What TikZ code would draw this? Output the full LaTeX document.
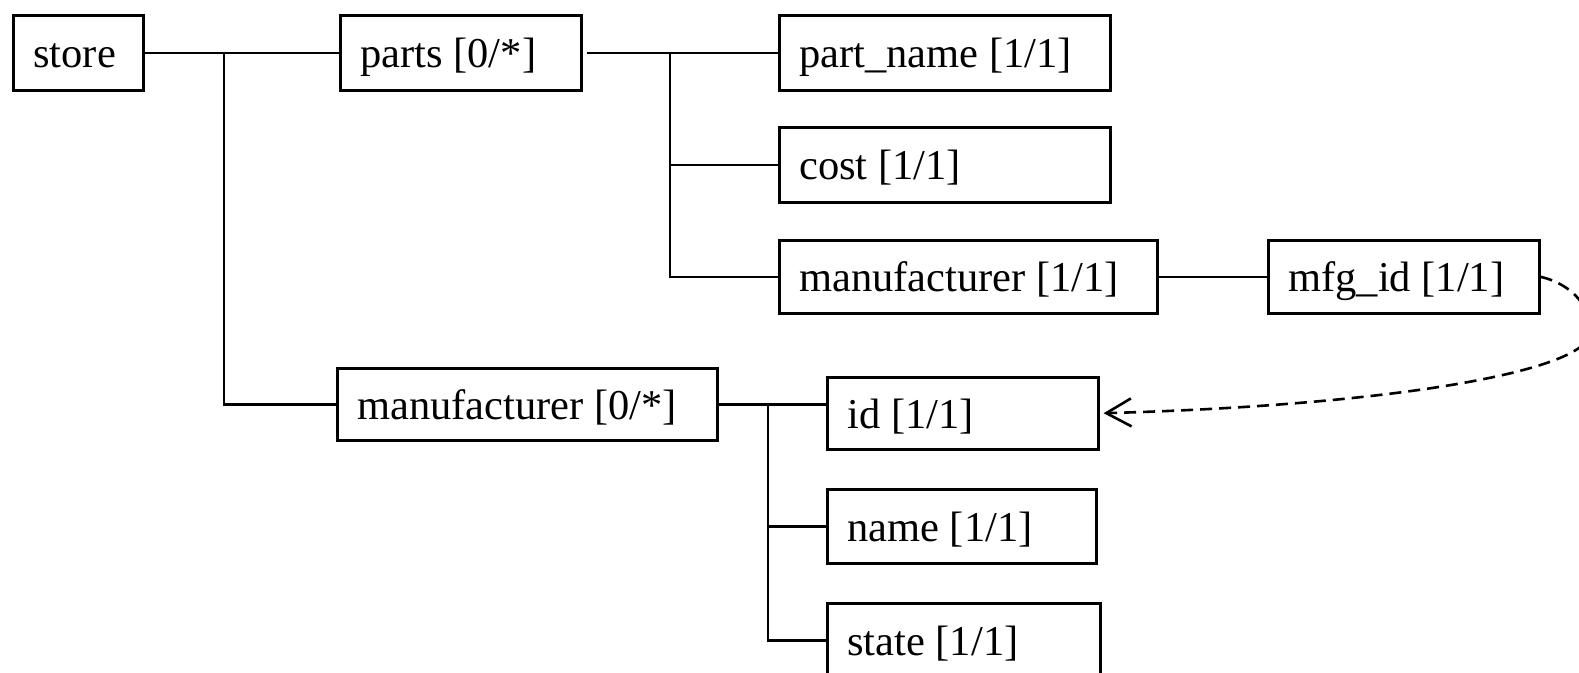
\documentclass[tikz,border=0pt]{standalone}
\usepackage{fontspec}
\setmainfont{Liberation Serif}
\usetikzlibrary{arrows.meta}
\newcommand\labelfont{\fontsize{42.5}{50}\selectfont}
\newcommand\tightspace{\spaceskip=0.25em\relax}
\begin{document}
\begin{tikzpicture}[x=1pt,y=-1pt,
  box/.style={draw, line width=2.6pt, rectangle, inner xsep=20pt, inner ysep=0pt,
    align=left, text height=34pt, text depth=4pt, anchor=north west,
    font=\labelfont, execute at begin node=\tightspace},
  link/.style={line width=2.6pt},
  ref/.style={line width=2.6pt, dash pattern=on 12pt off 7pt,
    -{Straight Barb[length=25pt,width=28pt]}}]
\useasboundingbox (0,0) rectangle (1579,672);
\clip (0,0) rectangle (1579,672);

% element boxes
\node[box, text width=90pt,  minimum height=75pt] (store) at (12,14)   {store};
\node[box, text width=201pt, minimum height=75pt] (parts) at (339,14)  {parts [0/*]};
\node[box, text width=291pt, minimum height=75pt] (pname) at (778,14)  {part\_name [1/1]};
\node[box, text width=291pt, minimum height=75pt] (cost)  at (778,126) {cost [1/1]};
\node[box, text width=338pt, minimum height=73pt] (manA)  at (778,239) {manufacturer [1/1]};
\node[box, text width=231pt, minimum height=73pt] (mfg)   at (1267,239){mfg\_id [1/1]};
\node[box, text width=340pt, minimum height=72pt] (manB)  at (336,367) {manufacturer [0/*]};
\node[box, text width=231pt, minimum height=72pt] (id)    at (826,376) {id [1/1]};
\node[box, text width=229pt, minimum height=74pt] (name)  at (826,488) {name [1/1]};
\node[box, text width=233pt, minimum height=74pt] (state) at (826,602) {state [1/1]};

% tree connectors
\coordinate (jstore) at (224,51.5);
\coordinate (jparts) at (670,51.5);
\coordinate (jman)   at (768,403);

\draw[link] (store.east) -- (parts.west);
\draw[link] (jstore) |- (manB.west);

\draw[link, shorten <=4pt] (parts.east) -- (pname.west);
\draw[link] (jparts) |- (cost.west);
\draw[link] (jparts) |- (manA.west);

\draw[link] (manA.east) -- (mfg.west);

\draw[link] (manB.east) -- (manB.east -| id.west);
\draw[link] (jman) |- (name.west);
\draw[link] (jman) |- (state.west);

% key reference
\draw[ref, shorten >=4pt] (mfg.east)
  .. controls (1575,285) and (1592,310) .. (1590,333)
  .. controls (1588,370) and (1400,405) .. (id.east);
\end{tikzpicture}
\end{document}
